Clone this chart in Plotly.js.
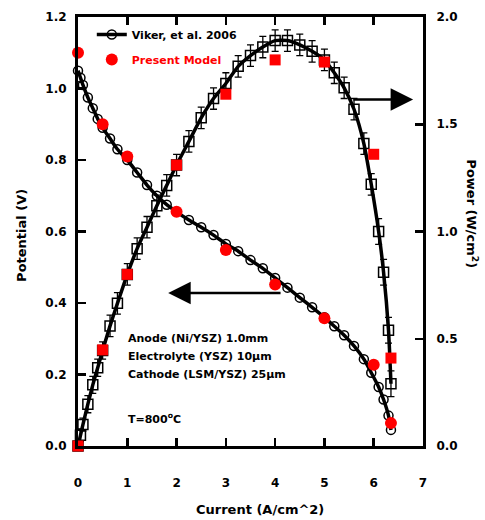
<!DOCTYPE html>
<html>
<head>
<meta charset="utf-8">
<script src="https://cdn.plot.ly/plotly-3.0.1.min.js"></script>
<style>
  html, body { margin: 0; padding: 0; background: #ffffff; }
  #chart { width: 485px; height: 520px; }
</style>
</head>
<body>
<div id="chart"></div>
<script>
// Measured cell performance (Viker, et al. 2006)
const expCurrent = [0, 0.05, 0.1, 0.2, 0.3, 0.4, 0.5, 0.65, 0.8, 1.0, 1.2, 1.4, 1.6, 1.8, 2.0, 2.25, 2.5, 2.75,
                    3.0, 3.25, 3.5, 3.75, 4.0, 4.25, 4.5, 4.75, 5.0, 5.2, 5.4, 5.6, 5.8, 5.95, 6.1, 6.2, 6.3, 6.35];
const expPotential = [1.05, 1.03, 1.01, 0.975, 0.945, 0.915, 0.89, 0.86, 0.83, 0.80, 0.765, 0.73, 0.70, 0.675, 0.655, 0.632, 0.612, 0.59,
                      0.565, 0.545, 0.52, 0.497, 0.47, 0.443, 0.415, 0.388, 0.36, 0.335, 0.31, 0.28, 0.243, 0.205, 0.165, 0.13, 0.085, 0.045];
const expPower = [0, 0.05, 0.10, 0.195, 0.285, 0.365, 0.445, 0.56, 0.665, 0.80, 0.92, 1.02, 1.12, 1.215, 1.31, 1.42, 1.53, 1.62,
                  1.69, 1.77, 1.82, 1.86, 1.89, 1.89, 1.87, 1.84, 1.80, 1.74, 1.67, 1.57, 1.41, 1.22, 1.00, 0.81, 0.54, 0.29];
const expPowerErr = [0.02, 0.03, 0.03, 0.04, 0.04, 0.04, 0.04, 0.05, 0.05, 0.05, 0.05, 0.05, 0.05, 0.05, 0.05, 0.05, 0.05, 0.05,
                     0.05, 0.05, 0.05, 0.05, 0.05, 0.05, 0.05, 0.05, 0.05, 0.05, 0.05, 0.05, 0.05, 0.05, 0.06, 0.06, 0.06, 0.06];

// Present model predictions
const modelCurrent = [0, 0.5, 1, 2, 3, 4, 5, 6, 6.35];
const modelPotential = [1.10, 0.90, 0.81, 0.655, 0.548, 0.452, 0.357, 0.227, 0.064];
const modelPower = [0, 0.448, 0.80, 1.31, 1.64, 1.80, 1.79, 1.36, 0.41];

// Axis ticks
const xTicks = [0, 1, 2, 3, 4, 5, 6, 7];
const potentialTicks = [0.0, 0.2, 0.4, 0.6, 0.8, 1.0, 1.2];
const powerTicks = [0.0, 0.5, 1.0, 1.5, 2.0];

const FONT = 'DejaVu Sans, Verdana, sans-serif';
const bold = (size, color) => ({ family: FONT, size: size, color: color || '#000', weight: 'bold' });

const traces = [
  {
    name: 'Viker, et al. 2006',
    x: expCurrent, y: expPotential,
    type: 'scatter', mode: 'lines+markers',
    line: { color: '#000', width: 3.5, shape: 'spline', smoothing: 0.6 },
    marker: { symbol: 'circle-open', size: 9, color: '#000', line: { width: 1.5, color: '#000' } },
    cliponaxis: false,
    legendgroup: 'a'
  },
  {
    name: 'Viker power',
    x: expCurrent, y: expPower, yaxis: 'y2',
    type: 'scatter', mode: 'lines+markers',
    line: { color: '#000', width: 3.5, shape: 'spline', smoothing: 0.6 },
    marker: { symbol: 'square-open', size: 10, color: '#000', line: { width: 1.5, color: '#000' } },
    error_y: { type: 'data', array: expPowerErr, visible: true, color: '#000', thickness: 1.3, width: 3.5 },
    cliponaxis: false,
    showlegend: false
  },
  {
    name: '<span style="color:#ff0000">Present Model</span>',
    x: modelCurrent, y: modelPotential,
    type: 'scatter', mode: 'markers',
    marker: { symbol: 'circle', size: 12, color: '#ff0000' },
    cliponaxis: false,
    legendgroup: 'b'
  },
  {
    name: 'Present model power',
    x: modelCurrent, y: modelPower, yaxis: 'y2',
    type: 'scatter', mode: 'markers',
    marker: { symbol: 'square', size: 11, color: '#ff0000' },
    cliponaxis: false,
    showlegend: false
  }
];

const annotations = [
  // axis titles
  { text: 'Current (A/cm^2)', xref: 'paper', yref: 'paper', x: 0.528, y: -0.149,
    showarrow: false, font: bold(13), xanchor: 'center', yanchor: 'middle' },
  { text: 'Potential (V)', xref: 'paper', yref: 'paper', x: -0.162, y: 0.49, textangle: -90,
    showarrow: false, font: bold(13), xanchor: 'center', yanchor: 'middle' },
  { text: 'Power (W/cm<sup>2</sup>)', xref: 'paper', yref: 'paper', x: 1.142, y: 0.54, textangle: 90,
    showarrow: false, font: bold(13), xanchor: 'center', yanchor: 'middle' },
  // cell description
  { text: 'Anode (Ni/YSZ) 1.0mm', xref: 'x', yref: 'y', x: 0.97, y: 0.30,
    showarrow: false, font: bold(11), xanchor: 'left', yanchor: 'middle' },
  { text: 'Electrolyte (YSZ) 10\u03bcm', xref: 'x', yref: 'y', x: 0.97, y: 0.249,
    showarrow: false, font: bold(11), xanchor: 'left', yanchor: 'middle' },
  { text: 'Cathode (LSM/YSZ) 25\u03bcm', xref: 'x', yref: 'y', x: 0.97, y: 0.199,
    showarrow: false, font: bold(11), xanchor: 'left', yanchor: 'middle' },
  { text: 'T=800<sup>o</sup>C', xref: 'x', yref: 'y', x: 0.97, y: 0.078,
    showarrow: false, font: bold(11), xanchor: 'left', yanchor: 'middle' },
  // arrows pointing to the matching axis
  { text: '', xref: 'x', yref: 'y', axref: 'x', ayref: 'y', x: 1.83, y: 0.428, ax: 4.14, ay: 0.428,
    showarrow: true, arrowhead: 2, arrowsize: 1.8, arrowwidth: 2.5, arrowcolor: '#000', standoff: 0, startstandoff: 0 },
  { text: '', xref: 'x', yref: 'y', axref: 'x', ayref: 'y', x: 6.8, y: 0.969, ax: 5.56, ay: 0.969,
    showarrow: true, arrowhead: 2, arrowsize: 1.8, arrowwidth: 2.5, arrowcolor: '#000', standoff: 0, startstandoff: 0 }
];

const layout = {
  width: 485, height: 520,
  margin: { l: 78, r: 62, t: 17, b: 74, pad: 0 },
  paper_bgcolor: '#fff', plot_bgcolor: '#fff',
  font: bold(12),
  showlegend: true,
  legend: {
    x: 0.04, y: 0.993, xanchor: 'left', yanchor: 'top',
    bgcolor: 'rgba(0,0,0,0)', borderwidth: 0,
    font: bold(11), traceorder: 'grouped', tracegroupgap: 6
  },
  xaxis: {
    range: [0, 7], tickvals: xTicks, ticktext: xTicks.map(String),
    showgrid: false, zeroline: false,
    showline: true, linecolor: '#000', linewidth: 3, mirror: 'ticks',
    ticks: 'inside', ticklen: 8, tickwidth: 2.5, tickcolor: '#000',
    ticklabelstandoff: 24, tickfont: bold(12)
  },
  yaxis: {
    range: [0, 1.2], tickvals: potentialTicks, ticktext: potentialTicks.map(v => v.toFixed(1)),
    showgrid: false, zeroline: false,
    showline: true, linecolor: '#000', linewidth: 3,
    ticks: 'inside', ticklen: 8, tickwidth: 2.5, tickcolor: '#000',
    ticklabelstandoff: 6, tickfont: bold(12)
  },
  yaxis2: {
    range: [0, 2.0], overlaying: 'y', side: 'right',
    tickvals: powerTicks, ticktext: powerTicks.map(v => v.toFixed(1)),
    showgrid: false, zeroline: false,
    showline: true, linecolor: '#000', linewidth: 3,
    ticks: 'inside', ticklen: 8, tickwidth: 2.5, tickcolor: '#000',
    ticklabelstandoff: 8, tickfont: bold(12)
  },
  annotations: annotations
};

Plotly.newPlot('chart', traces, layout, { displayModeBar: false, staticPlot: true });
</script>
</body>
</html>
